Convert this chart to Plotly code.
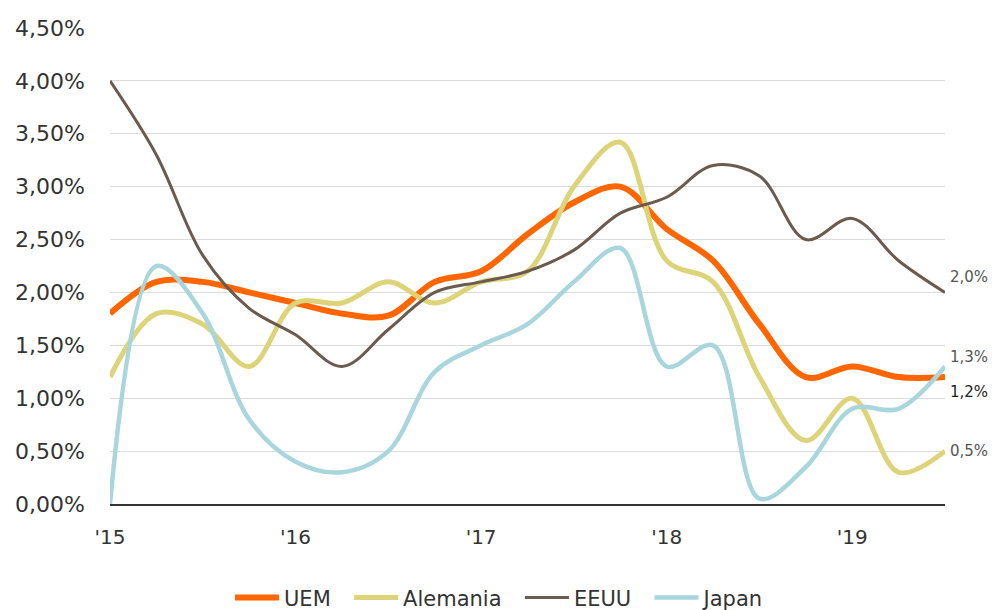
import plotly.graph_objects as go

# Quarterly periods, 2015 Q1 to 2019 Q3
quarters = [
    "2015T1", "2015T2", "2015T3", "2015T4",
    "2016T1", "2016T2", "2016T3", "2016T4",
    "2017T1", "2017T2", "2017T3", "2017T4",
    "2018T1", "2018T2", "2018T3", "2018T4",
    "2019T1", "2019T2", "2019T3",
]
tick_quarters = ["2015T1", "2016T1", "2017T1", "2018T1", "2019T1"]
tick_labels = ["'15", "'16", "'17", "'18", "'19"]

# Year-on-year rates, %
uem = [1.8, 2.1, 2.1, 2.0, 1.9, 1.8, 1.78, 2.1, 2.2, 2.55, 2.85, 3.0,
       2.6, 2.3, 1.7, 1.2, 1.3, 1.2, 1.2]
alemania = [1.2, 1.8, 1.7, 1.3, 1.9, 1.9, 2.1, 1.9, 2.1, 2.2, 3.0, 3.42,
            2.3, 2.1, 1.2, 0.6, 1.0, 0.3, 0.5]
eeuu = [4.0, 3.3, 2.35, 1.85, 1.6, 1.3, 1.65, 2.0, 2.1, 2.2, 2.4, 2.75,
        2.9, 3.2, 3.1, 2.5, 2.7, 2.3, 2.0]
japan = [0.0, 2.25, 1.8, 0.8, 0.4, 0.3, 0.5, 1.25, 1.5, 1.7, 2.1, 2.42,
         1.3, 1.5, 0.05, 0.35, 0.9, 0.9, 1.3]

# name, values, colour, line width, end-label colour, end-label vertical shift
series = [
    ("UEM", uem, "#FF6600", 6, "#222222", -15),
    ("Alemania", alemania, "#DDD47A", 5, "#555555", 0),
    ("EEUU", eeuu, "#6B5A4E", 3, "#555555", 15),
    ("Japan", japan, "#A9D6DC", 4.5, "#555555", 9),
]

fig = go.Figure()
for name, vals, color, width, _, _ in series:
    fig.add_trace(go.Scatter(
        x=quarters, y=vals, name=name + "\u00a0\u00a0", mode="lines",
        line=dict(color=color, width=width, shape="spline", smoothing=1.0),
        hoverinfo="skip", cliponaxis=False,
    ))

for name, vals, color, width, txtcolor, shift in series:
    last = vals[-1]
    fig.add_annotation(
        x=quarters[-1], y=last, xref="x", yref="y",
        text=f"{last:.1f}%".replace(".", ","),
        showarrow=False, xanchor="left", yanchor="middle",
        xshift=3, yshift=shift,
        font=dict(family="DejaVu Sans", size=15, color=txtcolor),
    )

fig.update_layout(
    width=999, height=610,
    margin=dict(l=110, r=54, t=28, b=106, autoexpand=False),
    plot_bgcolor="white", paper_bgcolor="white",
    font=dict(family="DejaVu Sans", color="#333333"),
    showlegend=True,
    legend=dict(
        orientation="h", xref="container", x=0.507, xanchor="center",
        yref="container", y=0.02, yanchor="middle",
        font=dict(size=21, color="#333333"), itemwidth=44,
        traceorder="normal", tracegroupgap=0,
    ),
    xaxis=dict(
        type="category", range=[0, len(quarters) - 1],
        tickmode="array", tickvals=tick_quarters, ticktext=tick_labels,
        showgrid=False, showline=True, linecolor="#333333", linewidth=2,
        ticks="", tickfont=dict(size=20, color="#333333"),
        ticklabelstandoff=14, zeroline=False, automargin=False,
    ),
    yaxis=dict(
        range=[0, 4.5], dtick=0.5, tick0=0,
        tickformat=".2f", ticksuffix="%",
        showgrid=True, gridcolor="#DCDCDC", gridwidth=1,
        zeroline=False, showline=False, ticks="",
        tickfont=dict(size=22, color="#333333"),
        ticklabelstandoff=24, automargin=False,
    ),
    separators=",.",
)

fig.write_html("out.html")
